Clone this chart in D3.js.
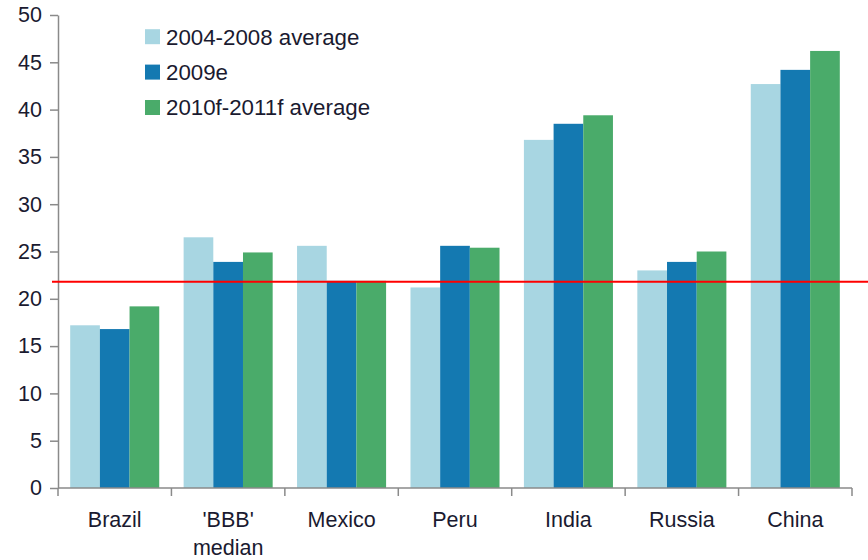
<!DOCTYPE html>
<html>
<head>
<meta charset="utf-8">
<script src="https://cdn.jsdelivr.net/npm/d3@7/dist/d3.min.js"></script>
<style>
  html, body { margin: 0; padding: 0; background: #fff; }
  svg text { font-family: "Liberation Sans", Arial, sans-serif; fill: #1a1a30; }
</style>
</head>
<body>
<svg id="chart" width="868" height="560"></svg>
<script>
// Categories and series
const categories = ["Brazil", "'BBB'\nmedian", "Mexico", "Peru", "India", "Russia", "China"];
const seriesNames = ["2004-2008 average", "2009e", "2010f-2011f average"];
const avg2004_2008 = [17.2, 26.5, 25.6, 21.2, 36.8, 23.0, 42.7];
const est2009 = [16.8, 23.9, 21.9, 25.6, 38.5, 23.9, 44.2];
const fcst2010_2011 = [19.2, 24.9, 21.9, 25.4, 39.4, 25.0, 46.2];
const referenceLevel = 21.8;
const yTicks = [0, 5, 10, 15, 20, 25, 30, 35, 40, 45, 50];

const seriesValues = [avg2004_2008, est2009, fcst2010_2011];
const colors = ["#a8d6e2", "#1479b1", "#4aab6a"];

const svg = d3.select("#chart");
const plotLeft = 58, plotRight = 852, plotTop = 15, plotBottom = 488;
const fontSize = 21.5;

const x0 = d3.scaleBand().domain(categories).range([plotLeft, plotRight])
  .paddingInner(0.215).paddingOuter(0.1075);
const x1 = d3.scaleBand().domain(d3.range(seriesNames.length)).range([0, x0.bandwidth()]);
const y = d3.scaleLinear().domain([0, 50]).range([plotBottom, plotTop]);

// Bars
const groups = svg.append("g").selectAll("g")
  .data(categories).join("g")
  .attr("transform", d => `translate(${x0(d)},0)`);
groups.selectAll("rect")
  .data((d, i) => seriesValues.map((vals, s) => ({ s, v: vals[i] })))
  .join("rect")
  .attr("x", d => x1(d.s))
  .attr("width", x1.bandwidth())
  .attr("y", d => y(d.v))
  .attr("height", d => y(0) - y(d.v))
  .attr("fill", d => colors[d.s]);

// Y axis
const yAxis = svg.append("g")
  .attr("transform", `translate(${plotLeft},0)`)
  .call(d3.axisLeft(y).tickValues(yTicks).tickSize(8).tickSizeOuter(0).tickPadding(8));
yAxis.selectAll("path, line").attr("stroke", "#8a8a8a").attr("stroke-width", 1.5);
yAxis.selectAll("text").attr("font-size", fontSize).attr("fill", "#1a1a30")
  .attr("font-family", "Liberation Sans, Arial, sans-serif");

// X axis line with ticks at category boundaries
const gap = x0.step() - x0.bandwidth();
const boundaries = categories.map(c => x0(c) - gap / 2).concat([plotRight]);
const xAxis = svg.append("g");
xAxis.append("line")
  .attr("x1", plotLeft).attr("x2", plotRight).attr("y1", plotBottom).attr("y2", plotBottom)
  .attr("stroke", "#8a8a8a").attr("stroke-width", 1.5);
xAxis.selectAll("line.tick").data(boundaries).join("line")
  .attr("class", "tick")
  .attr("x1", d => d).attr("x2", d => d)
  .attr("y1", plotBottom).attr("y2", plotBottom + 8)
  .attr("stroke", "#8a8a8a").attr("stroke-width", 1.5);

// Category labels
const labels = svg.append("g").selectAll("text").data(categories).join("text")
  .attr("text-anchor", "middle")
  .attr("font-size", fontSize);
labels.each(function (d) {
  const t = d3.select(this);
  d.split("\n").forEach((line, k) => {
    t.append("tspan")
      .attr("x", x0(d) + x0.bandwidth() / 2)
      .attr("y", plotBottom + 39 + k * 28)
      .text(line);
  });
});

// Reference line
svg.append("line")
  .attr("x1", 52).attr("x2", 868)
  .attr("y1", y(referenceLevel)).attr("y2", y(referenceLevel))
  .attr("stroke", "#ff0000").attr("stroke-width", 1.8);

// Legend
const legend = svg.append("g").selectAll("g").data(seriesNames).join("g")
  .attr("transform", (d, i) => `translate(145,${36.7 + i * 35.4})`);
legend.append("rect")
  .attr("x", 0).attr("y", -7.5).attr("width", 15).attr("height", 15)
  .attr("fill", (d, i) => colors[i]);
legend.append("text")
  .attr("x", 21).attr("y", 7.8)
  .attr("font-size", 22.3)
  .text(d => d);
</script>
</body>
</html>
